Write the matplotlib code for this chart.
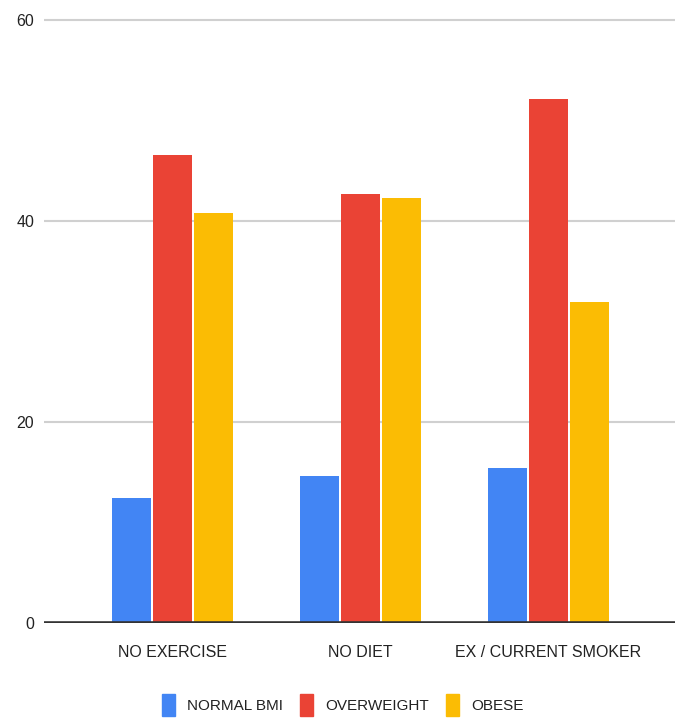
import matplotlib
matplotlib.use("Agg")
import matplotlib.pyplot as plt
import numpy as np
from matplotlib import font_manager
from matplotlib.patches import Patch

categories = ["NO EXERCISE", "NO DIET", "EX / CURRENT SMOKER"]
series_names = ["NORMAL BMI", "OVERWEIGHT", "OBESE"]
normal_bmi = [12.4, 14.6, 15.4]
overweight = [46.6, 42.7, 52.1]
obese = [40.8, 42.3, 31.9]
y_ticks = [0, 20, 40, 60]

colors = ["#4285F4", "#EA4335", "#FBBC04"]

names = {f.name for f in font_manager.fontManager.ttflist}
fam = ["Liberation Sans Narrow", "Liberation Sans", "DejaVu Sans"]
fam = [f for f in fam if f in names] or ["DejaVu Sans"]
plt.rcParams["font.family"] = fam

W, H = 677, 722
fig = plt.figure(figsize=(W / 100, H / 100), dpi=100)
ymax = 60.3
ax_h = 603 * ymax / 60
ax = fig.add_axes([44 / W, (H - 623) / H, 631 / W, ax_h / H])

x = np.arange(len(categories))
bw = 0.207
step = 0.218
for i, (vals, c) in enumerate(zip([normal_bmi, overweight, obese], colors)):
    ax.bar(x + (i - 1) * step, vals, width=bw, color=c, zorder=3)

ax.set_xlim(-0.683, 2.673)
ax.set_ylim(0, ymax)
ax.set_yticks(y_ticks)
ax.set_yticklabels([str(t) for t in y_ticks])
ax.set_xticks(x)
ax.set_xticklabels(categories)
for t in y_ticks[1:]:
    ax.axhline(t, color="#d0d0d0", lw=1.5, zorder=1)
ax.axhline(0, color="#333333", lw=2.6, zorder=4)
for s in ax.spines.values():
    s.set_visible(False)
ax.tick_params(axis="both", length=0, labelsize=11.5, colors="#222222")
ax.tick_params(axis="y", pad=7)
ax.tick_params(axis="x", pad=16)

handles = [Patch(facecolor=c, edgecolor=c) for c in colors]
fig.legend(handles, series_names, loc="center", bbox_to_anchor=(0.506, 0.0235),
           ncol=3, frameon=False, fontsize=11, handlelength=0.85, handleheight=1.9,
           columnspacing=1.1, handletextpad=0.8, labelcolor="#222222")

fig.savefig("out.png", dpi=100)
